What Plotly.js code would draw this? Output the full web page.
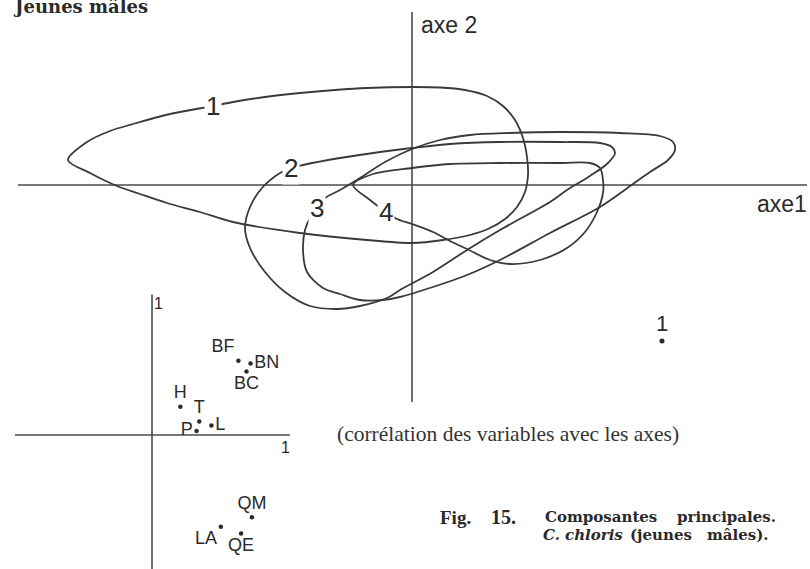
<!DOCTYPE html>
<html>
<head>
<meta charset="utf-8">
<script src="https://cdn.plot.ly/plotly-3.0.1.min.js"></script>
<style>html,body{margin:0;padding:0;background:#fff;}</style>
</head>
<body>
<div id="chart" style="width:810px;height:569px"></div>
<script>
// Principal components: outlines of the four groups in the plane of axes 1 and 2
const group1X = [-6.88,-6.50,-6.04,-5.58,-4.84,-3.98,-3.58,-2.94,-2.24,-1.54,-0.90,0.00,0.56,1.06,1.50,1.82,2.06,2.22,2.30,2.32,2.26,2.10,1.86,1.56,1.16,0.62,0.00,-0.90,-2.24,-3.58,-4.24,-4.90,-5.44,-5.90,-6.44,-6.88];
const group1Y = [0.50,0.86,1.08,1.22,1.42,1.58,1.66,1.76,1.84,1.90,1.94,1.96,1.95,1.90,1.78,1.58,1.30,0.94,0.56,0.20,-0.14,-0.44,-0.68,-0.86,-1.00,-1.10,-1.16,-1.10,-0.96,-0.74,-0.54,-0.36,-0.18,-0.02,0.24,0.50];

const group2X = [-2.42,-2.18,-1.44,-0.64,0.00,0.76,1.76,2.96,3.76,4.00,4.06,3.92,3.56,3.10,2.76,1.76,1.10,0.42,-0.24,-0.50,-1.04,-1.50,-2.04,-2.54,-2.94,-3.24,-3.34,-3.24,-3.00,-2.64,-2.42];
const group2Y = [0.34,0.40,0.54,0.66,0.74,0.82,0.86,0.86,0.84,0.76,0.64,0.44,0.18,-0.10,-0.34,-0.90,-1.30,-1.74,-2.10,-2.26,-2.42,-2.48,-2.42,-2.14,-1.74,-1.26,-0.86,-0.44,-0.06,0.24,0.34];

const group3X = [-1.90,-1.74,-1.44,-1.04,-0.54,0.00,0.56,1.16,1.96,2.96,4.16,4.96,5.22,5.26,5.12,4.76,4.42,3.76,2.76,1.76,1.10,0.42,-0.24,-0.58,-1.04,-1.44,-1.78,-2.10,-2.18,-2.14,-2.04,-1.90];
const group3Y = [-0.46,-0.26,-0.10,0.14,0.46,0.72,0.90,1.00,1.04,1.06,1.04,0.98,0.86,0.70,0.50,0.26,0.02,-0.44,-0.96,-1.50,-1.80,-2.04,-2.24,-2.30,-2.30,-2.18,-2.06,-1.74,-1.30,-0.90,-0.66,-0.46];

const group4X = [-1.18,-0.78,0.00,0.76,1.76,2.96,3.56,3.76,3.82,3.82,3.70,3.46,3.10,2.56,1.96,1.56,1.10,0.76,0.42,0.00,-0.30,-0.52,-0.84,-1.18];
const group4Y = [0.00,0.22,0.34,0.42,0.44,0.44,0.44,0.34,0.10,-0.16,-0.54,-0.94,-1.26,-1.50,-1.58,-1.50,-1.28,-1.12,-0.94,-0.78,-0.68,-0.54,-0.30,0.00];

const groupNames = ['1', '2', '3', '4'];
// index of the outline vertex where each group number is written
const groupLabelVertex = [5, 0, 0, 21];

// Isolated individual
const singleX = [5.00];
const singleY = [-3.12];
const singleName = ['1'];

// Correlation of the variables with the axes
const varNames = ['BF', 'BN', 'BC', 'H', 'T', 'P', 'L', 'QM', 'LA', 'QE'];
const varAxe1 = [0.64, 0.73, 0.70, 0.21, 0.35, 0.33, 0.44, 0.74, 0.51, 0.66];
const varAxe2 = [0.55, 0.53, 0.47, 0.21, 0.10, 0.03, 0.07, -0.61, -0.68, -0.73];

// ---- drawing ----
const W = 810, H = 569;
const LINE = '#3a3a3a';
const INK = '#2a2a2a';
const SANS = '"Liberation Sans", Arial, sans-serif';
const SERIF = '"Liberation Serif", "Times New Roman", serif';
const DSERIF = '"DejaVu Serif", serif';

const groupsX = [group1X, group2X, group3X, group4X];
const groupsY = [group1Y, group2Y, group3Y, group4Y];

const traces = groupsX.map((gx, i) => ({
  type: 'scatter', mode: 'lines', x: gx, y: groupsY[i],
  line: {color: LINE, width: 1.8, shape: 'spline', smoothing: 0.9},
  hoverinfo: 'skip', showlegend: false
}));

traces.push({
  type: 'scatter', mode: 'markers+text', x: singleX, y: singleY, text: singleName,
  textposition: 'top center',
  textfont: {family: SANS, size: 22, color: INK},
  marker: {size: 5, color: INK},
  hoverinfo: 'skip', showlegend: false
});

const varLabelPos = ['top left', 'middle right', 'bottom center', 'top center', 'top center',
                     'middle left', 'middle right', 'top center', 'bottom left', 'bottom center'];
traces.push({
  type: 'scatter', mode: 'markers+text', xaxis: 'x2', yaxis: 'y2',
  x: varAxe1, y: varAxe2, text: varNames, textposition: varLabelPos,
  textfont: {family: SANS, size: 18, color: INK},
  marker: {size: 4.5, color: INK},
  hoverinfo: 'skip', showlegend: false
});

// pixel helpers for free text placed on the page
const px = v => v / W;
const py = v => 1 - v / H;

const annotations = [];
groupNames.forEach((name, i) => {
  const k = groupLabelVertex[i];
  annotations.push({
    x: groupsX[i][k], y: groupsY[i][k], xref: 'x', yref: 'y', text: name,
    showarrow: false, bgcolor: '#ffffff', borderpad: 1,
    font: {family: SANS, size: 26, color: INK}
  });
});

function label(text, x, y, font, xanchor) {
  annotations.push({
    text: text, x: px(x), y: py(y), xref: 'paper', yref: 'paper',
    xanchor: xanchor || 'left', yanchor: 'middle', showarrow: false,
    borderpad: 0, font: font
  });
}

label('Jeunes mâles', 12, 6, {family: DSERIF, size: 18, color: INK, weight: 'bold'});
label('axe 2', 420, 25, {family: SANS, size: 23, color: INK});
label('axe1', 808, 204, {family: SANS, size: 23, color: INK}, 'right');
label('(corrélation des variables avec les axes)', 508, 434, {family: SERIF, size: 21.5, color: '#333'}, 'center');

const capBold = {family: DSERIF, size: 15, color: INK, weight: 'bold'};
const capItal = {family: DSERIF, size: 15, color: INK, weight: 'bold', style: 'italic'};
label('Fig.', 439, 517, {family: SERIF, size: 19, color: INK, weight: 'bold'});
label('15.', 490, 517, {family: SERIF, size: 20, color: INK, weight: 'bold'});
label('Composantes', 544, 517, capBold);
label('principales.', 676, 517, capBold);
label('C.', 542, 535, capItal);
label('chloris', 564, 535, capItal);
label('(jeunes', 629, 535, capBold);
label('mâles).', 706, 535, capBold);

// unit marks of the correlation circle axes
annotations.push({x: 0, y: 1, xref: 'x2', yref: 'y2', text: '1', showarrow: false,
  xshift: 6, yshift: -3, font: {family: SANS, size: 16, color: INK}});
annotations.push({x: 1, y: 0, xref: 'x2', yref: 'y2', text: '1', showarrow: false,
  xshift: -2, yshift: -12, font: {family: SANS, size: 16, color: INK}});

const AX = {color: '#4a4a4a', width: 1.6};
const shapes = [
  {type: 'line', xref: 'x', yref: 'y', x0: -7.88, x1: 7.90, y0: 0, y1: 0, line: AX, layer: 'below'},
  {type: 'line', xref: 'x', yref: 'y', x0: 0, x1: 0, y0: -4.34, y1: 3.46, line: AX, layer: 'below'},
  {type: 'line', xref: 'x2', yref: 'y2', x0: -1.015, x1: 1.022, y0: 0, y1: 0, line: AX, layer: 'below'},
  {type: 'line', xref: 'x2', yref: 'y2', x0: 0, x1: 0, y0: -1.0, y1: 1.04, line: AX, layer: 'below'}
];

const hidden = {visible: false, showgrid: false, zeroline: false, fixedrange: true};
const layout = {
  width: W, height: H, autosize: false,
  margin: {l: 0, r: 0, t: 0, b: 0, pad: 0},
  paper_bgcolor: '#ffffff', plot_bgcolor: '#ffffff',
  showlegend: false,
  xaxis: Object.assign({range: [-412 / 50, (W - 412) / 50]}, hidden),
  yaxis: Object.assign({range: [(185 - H) / 50, 185 / 50]}, hidden),
  xaxis2: Object.assign({range: [-152 / 135, (W - 152) / 135], overlaying: 'x', anchor: 'y2'}, hidden),
  yaxis2: Object.assign({range: [(435 - H) / 135, 435 / 135], overlaying: 'y', anchor: 'x2'}, hidden),
  shapes: shapes,
  annotations: annotations
};

Plotly.newPlot('chart', traces, layout, {staticPlot: true, displayModeBar: false});
</script>
</body>
</html>
